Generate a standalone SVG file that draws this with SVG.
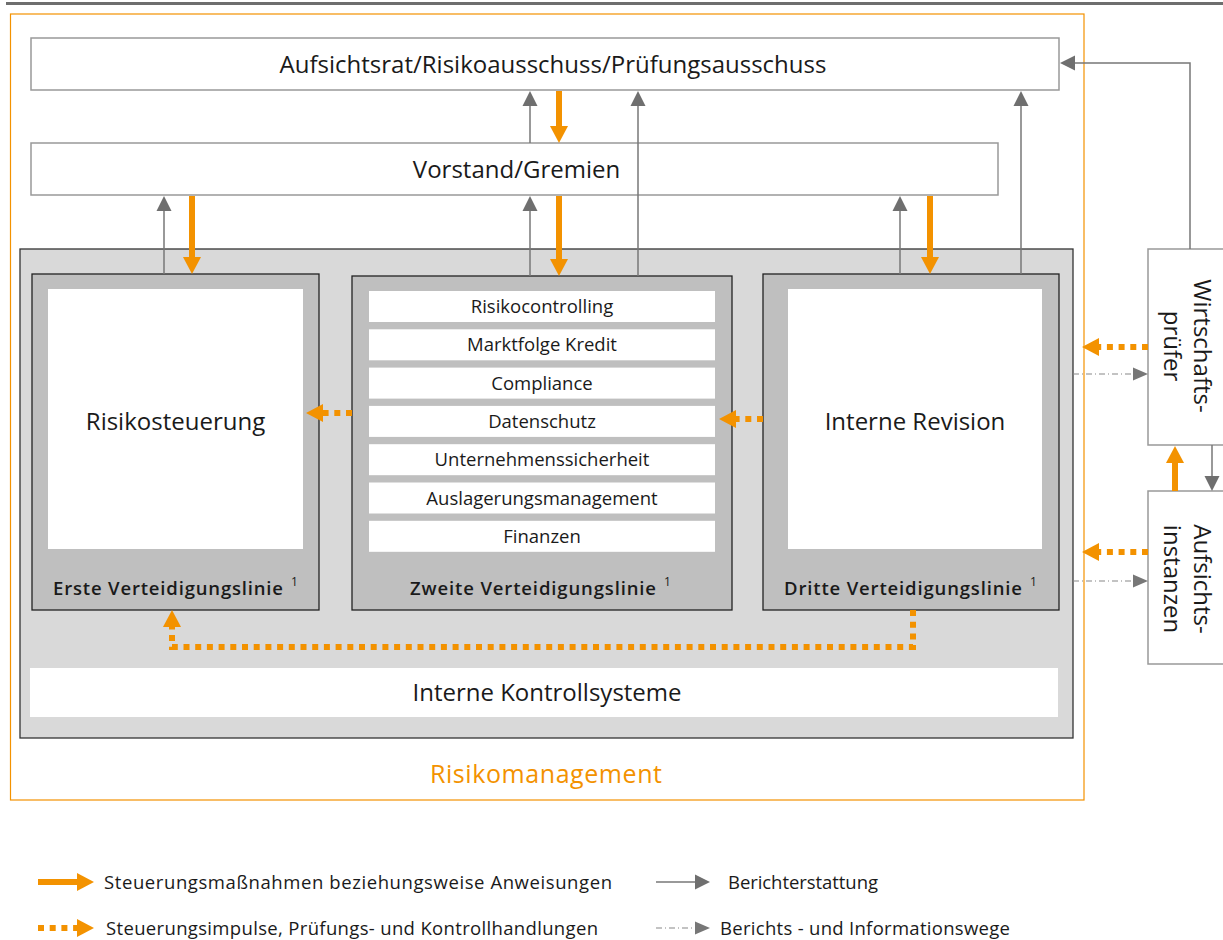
<svg xmlns="http://www.w3.org/2000/svg" width="1223" height="940" viewBox="0 0 1223 940">
<style>
.t{font-family:"Open Sans","Noto Sans","DejaVu Sans",sans-serif;fill:#1a1a1a}
.big{font-size:24px}
.sm{font-size:18.5px}
.lab{font-size:18.5px;font-weight:600}
.sup{font-size:12px}
.box{fill:#fff;stroke:#999;stroke-width:1.5}
.col{fill:#bfbfbf;stroke:#222;stroke-width:1.3}
.wh{fill:#fff}
.gs{fill:none;stroke:#777;stroke-width:1.5}
.os{fill:none;stroke:#f39200;stroke-width:6}
.od{fill:none;stroke:#f39200;stroke-width:6;stroke-dasharray:6 5.7}
.dd{fill:none;stroke:#888;stroke-width:1.2;stroke-dasharray:6 3 1 3}
</style>
<defs>
<marker id="ho" markerUnits="userSpaceOnUse" markerWidth="20" markerHeight="20" viewBox="0 -10 20 20" refX="0" refY="0" orient="auto" overflow="visible"><path d="M0,-9 L17,0 L0,9z" fill="#f39200"/></marker>
<marker id="hg" markerUnits="userSpaceOnUse" markerWidth="16" markerHeight="16" viewBox="0 -8 16 16" refX="0" refY="0" orient="auto" overflow="visible"><path d="M0,-7.5 L15,0 L0,7.5z" fill="#6f6f6f"/></marker>
<marker id="hd" markerUnits="userSpaceOnUse" markerWidth="16" markerHeight="16" viewBox="0 -8 16 16" refX="0" refY="0" orient="auto" overflow="visible"><path d="M0,-6.5 L15,0 L0,6.5z" fill="#777"/></marker>
</defs>
<rect x="0" y="0" width="1223" height="940" fill="#fff"/>
<line x1="6" y1="3.5" x2="1223" y2="3.5" stroke="#6e6e6e" stroke-width="3"/>

<g id="risikomanagement">
<rect x="10.5" y="14" width="1073.5" height="786" fill="none" stroke="#f39200" stroke-width="1.2"/>
<text class="t" x="546" y="783" text-anchor="middle" textLength="232" style="fill:#f39200;font-size:25px">Risikomanagement</text>
</g>

<g id="aufsichtsrat">
<rect class="box" x="31" y="38" width="1028" height="52"/>
<text class="t big" x="553" y="73" text-anchor="middle">Aufsichtsrat/Risikoausschuss/Prüfungsausschuss</text>
</g>

<g id="vorstand">
<rect class="box" x="31" y="143" width="967" height="52"/>
<text class="t big" x="516.5" y="178" text-anchor="middle">Vorstand/Gremien</text>
</g>

<g id="kontrollrahmen">
<rect x="20" y="249" width="1053" height="489" fill="#d9d9d9" stroke="#333" stroke-width="1.3"/>
</g>

<g id="erste-linie">
<rect class="col" x="32" y="274" width="287" height="336"/>
<rect class="wh" x="48" y="289" width="255" height="260"/>
<text class="t big" x="175.5" y="430" text-anchor="middle">Risikosteuerung</text>
<text class="t lab" x="53" y="595" textLength="230">Erste Verteidigungslinie</text>
<text class="t sup" x="291" y="586">1</text>
</g>

<g id="zweite-linie">
<rect class="col" x="352" y="276" width="380" height="334"/>
<rect class="wh" x="369" y="291" width="346" height="31"/>
<rect class="wh" x="369" y="329.3" width="346" height="31"/>
<rect class="wh" x="369" y="367.6" width="346" height="31"/>
<rect class="wh" x="369" y="405.9" width="346" height="31"/>
<rect class="wh" x="369" y="444.2" width="346" height="31"/>
<rect class="wh" x="369" y="482.5" width="346" height="31"/>
<rect class="wh" x="369" y="520.8" width="346" height="31"/>
<text class="t sm" x="542" y="313" text-anchor="middle">Risikocontrolling</text>
<text class="t sm" x="542" y="351.3" text-anchor="middle">Marktfolge Kredit</text>
<text class="t sm" x="542" y="389.6" text-anchor="middle">Compliance</text>
<text class="t sm" x="542" y="427.9" text-anchor="middle">Datenschutz</text>
<text class="t sm" x="542" y="466.2" text-anchor="middle">Unternehmenssicherheit</text>
<text class="t sm" x="542" y="504.5" text-anchor="middle">Auslagerungsmanagement</text>
<text class="t sm" x="542" y="542.8" text-anchor="middle">Finanzen</text>
<text class="t lab" x="410" y="595" textLength="246">Zweite Verteidigungslinie</text>
<text class="t sup" x="664" y="586">1</text>
</g>

<g id="dritte-linie">
<rect class="col" x="763" y="274" width="296" height="336"/>
<rect class="wh" x="788" y="289" width="254" height="260"/>
<text class="t big" x="915" y="430" text-anchor="middle">Interne Revision</text>
<text class="t lab" x="784" y="595" textLength="238">Dritte Verteidigungslinie</text>
<text class="t sup" x="1030" y="586">1</text>
</g>

<g id="iks">
<rect class="wh" x="30" y="668" width="1028" height="49"/>
<text class="t big" x="547" y="701" text-anchor="middle">Interne Kontrollsysteme</text>
</g>

<g id="wirtschaftspruefer">
<rect class="box" x="1148" y="249" width="80" height="196"/>
<text class="t big" transform="translate(1194,346) rotate(90)" text-anchor="middle">Wirtschafts-</text>
<text class="t big" transform="translate(1164,346) rotate(90)" text-anchor="middle">prüfer</text>
</g>

<g id="aufsichtsinstanzen">
<rect class="box" x="1148" y="491" width="80" height="173"/>
<text class="t big" transform="translate(1194,579) rotate(90)" text-anchor="middle">Aufsichts-</text>
<text class="t big" transform="translate(1164,579) rotate(90)" text-anchor="middle">instanzen</text>
</g>

<g id="connectors">
<path class="gs" d="M164,274 V211" marker-end="url(#hg)"/>
<path class="gs" d="M530,276 V211" marker-end="url(#hg)"/>
<path class="gs" d="M530,143 V106" marker-end="url(#hg)"/>
<path class="gs" d="M638,276 V106" marker-end="url(#hg)"/>
<path class="gs" d="M900,274 V211" marker-end="url(#hg)"/>
<path class="gs" d="M1021,274 V106" marker-end="url(#hg)"/>
<path class="gs" d="M1190,249 V63 H1075" marker-end="url(#hg)"/>
<path class="gs" d="M1212,445 V476" marker-end="url(#hg)"/>

<path class="os" d="M192,196 V257" marker-end="url(#ho)"/>
<path class="os" d="M559,91 V126" marker-end="url(#ho)"/>
<path class="os" d="M559,196 V259" marker-end="url(#ho)"/>
<path class="os" d="M930,196 V257" marker-end="url(#ho)"/>
<path class="os" d="M1175,491 V463" marker-end="url(#ho)"/>

<path class="od" d="M352,413 H323" marker-end="url(#ho)"/>
<path class="od" d="M763,419 H736" marker-end="url(#ho)"/>
<path class="od" d="M913,610 V647 H172 V627" marker-end="url(#ho)"/>
<path class="od" d="M1148,347 H1099" marker-end="url(#ho)"/>
<path class="od" d="M1148,552 H1099" marker-end="url(#ho)"/>

<path class="dd" d="M1073,374 H1133" marker-end="url(#hd)"/>
<path class="dd" d="M1073,581 H1133" marker-end="url(#hd)"/>
</g>

<g id="legende">
<path class="os" d="M38,882 H77" marker-end="url(#ho)"/>
<text class="t sm" x="104" y="889" textLength="508">Steuerungsmaßnahmen beziehungsweise Anweisungen</text>
<path class="od" d="M38,928 H77" marker-end="url(#ho)"/>
<text class="t sm" x="106" y="935" textLength="492">Steuerungsimpulse, Prüfungs- und Kontrollhandlungen</text>
<path class="gs" d="M656,882 H695" marker-end="url(#hg)"/>
<text class="t sm" x="728" y="889" textLength="150">Berichterstattung</text>
<path class="dd" d="M656,928 H695" marker-end="url(#hd)"/>
<text class="t sm" x="720" y="935" textLength="290">Berichts - und Informationswege</text>
</g>
</svg>
